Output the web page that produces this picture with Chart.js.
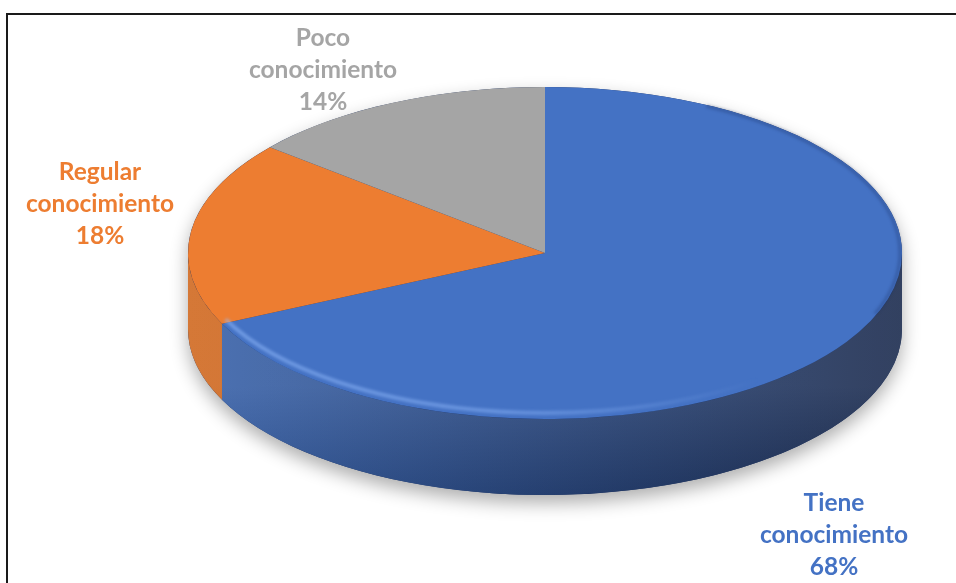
<!DOCTYPE html>
<html>
<head>
<meta charset="utf-8">
<script src="https://cdn.jsdelivr.net/npm/chart.js@4.4.0/dist/chart.umd.min.js"></script>
<style>
html,body{margin:0;padding:0;background:#fff;overflow:hidden}
#wrap{position:relative;width:956px;height:583px;overflow:hidden}
#frame{position:absolute;left:6px;top:13px;width:1000px;height:700px;border:2px solid #1a1a1a;box-sizing:border-box}
#chartPie{position:absolute;left:0;top:0}
</style>
</head>
<body>
<div id="wrap">
  <div id="frame"></div>
  <canvas id="chartPie" width="956" height="583"></canvas>
</div>
<script>
/* ---------- data ---------- */
const categories = ['Tiene conocimiento','Regular conocimiento','Poco conocimiento'];
const values = [68, 18, 14];
const topColors = ['#4472c4','#ed7d31','#a5a5a5'];
const sideColors = [['#3862ab','#1b2b4e'],['#d06920','#b4561a'],['#8c8c8c','#777777']];
const labelLines = [['Tiene','conocimiento'],['Regular','conocimiento'],['Poco','conocimiento']];
const labelAt = [[834,503],[100,172],[323,38]];

const TILT = 0.465;   // vertical squash of the disc
const DEPTH = 76;     // thickness of the disc

/* ---------- 3d pie plugin ---------- */
const pie3d = {
  id:'pie3d',
  beforeDatasetsDraw(chart){
    const ctx = chart.ctx;
    const arcs = chart.getDatasetMeta(0).data;
    const {x, y, outerRadius:r} = arcs[0].getProps(['x','y','outerRadius'],true);
    const ry = r*TILT;

    // soft shadow under the whole disc
    ctx.save();
    ctx.shadowColor = 'rgba(0,0,0,0.32)';
    ctx.shadowBlur = 18;
    ctx.shadowOffsetY = 8;
    ctx.fillStyle = '#1f3360';
    ctx.beginPath();
    ctx.ellipse(x, y, r, ry, 0, Math.PI, 2*Math.PI);
    ctx.ellipse(x, y+DEPTH, r, ry, 0, 0, Math.PI);
    ctx.closePath();
    ctx.fill();
    ctx.restore();

    // side walls, only the front half is visible
    arcs.forEach((a,i)=>{
      const {startAngle:s, endAngle:e} = a.getProps(['startAngle','endAngle'],true);
      [-1,0,1].forEach(k=>{
        const lo = Math.max(s, 2*Math.PI*k), hi = Math.min(e, 2*Math.PI*k+Math.PI);
        if(hi <= lo) return;
        const g = ctx.createLinearGradient(x-r,0,x+r,0);
        g.addColorStop(0, sideColors[i][0]);
        g.addColorStop(1, sideColors[i][1]);
        ctx.save();
        ctx.fillStyle = g;
        ctx.beginPath();
        ctx.ellipse(x, y, r, ry, 0, lo, hi, false);
        ctx.ellipse(x, y+DEPTH, r, ry, 0, hi, lo, true);
        ctx.closePath();
        ctx.fill();
        // lighter band just under the rim
        const v = ctx.createLinearGradient(0, y, 0, y+ry+DEPTH);
        v.addColorStop(0.55,'rgba(255,255,255,0.10)');
        v.addColorStop(1,'rgba(0,0,0,0.10)');
        ctx.fillStyle = v;
        ctx.fill();
        ctx.restore();
      });
    });

    // squash the library's arcs into the top face
    ctx.save();
    ctx.translate(x, y);
    ctx.scale(1, TILT);
    ctx.translate(-x, -y);
  },
  afterDatasetsDraw(chart){
    const ctx = chart.ctx;
    ctx.restore();
    const a0 = chart.getDatasetMeta(0).data[0];
    const {x, y, outerRadius:r} = a0.getProps(['x','y','outerRadius'],true);
    const ry = r*TILT;

    // highlight along the front rim
    ctx.save();
    const h = ctx.createLinearGradient(x-r,0,x+r,0);
    h.addColorStop(0,'rgba(150,190,255,0.55)');
    h.addColorStop(0.45,'rgba(150,190,255,0.45)');
    h.addColorStop(0.8,'rgba(150,190,255,0.0)');
    ctx.strokeStyle = h;
    ctx.lineWidth = 4;
    ctx.filter = 'blur(1.5px)';
    ctx.beginPath();
    ctx.ellipse(x, y-3, r-4, ry-3, 0, 0.2*Math.PI, 0.86*Math.PI);
    ctx.stroke();
    ctx.restore();

    // darker edge on the right of the top face
    ctx.save();
    ctx.strokeStyle = 'rgba(20,40,90,0.3)';
    ctx.lineWidth = 3;
    ctx.filter = 'blur(1.5px)';
    ctx.beginPath();
    ctx.ellipse(x, y, r-2, ry-1, 0, -0.35*Math.PI, 0.12*Math.PI);
    ctx.stroke();
    ctx.restore();
  },
  afterDraw(chart){
    const ctx = chart.ctx;
    const total = values.reduce((s,v)=>s+v,0);
    ctx.save();
    ctx.font = 'bold 24.5px Lato, "Open Sans", sans-serif';
    ctx.textAlign = 'center';
    ctx.textBaseline = 'middle';
    values.forEach((v,i)=>{
      const lines = [...labelLines[i], Math.round(v/total*100)+'%'];
      ctx.fillStyle = topColors[i];
      lines.forEach((t,j)=>ctx.fillText(t, labelAt[i][0], labelAt[i][1]+j*32));
    });
    ctx.restore();
  }
};

/* ---------- chart ---------- */
new Chart(document.getElementById('chartPie'),{
  type:'pie',
  data:{
    labels:categories,
    datasets:[{
      data:values,
      backgroundColor:topColors,
      borderWidth:0,
      radius:357,
      clip:false,
      hoverOffset:0
    }]
  },
  options:{
    responsive:false,
    animation:false,
    layout:{padding:{left:134,right:0,top:0,bottom:77}},
    plugins:{legend:{display:false},tooltip:{enabled:false}},
    events:[]
  },
  plugins:[pie3d]
});
</script>
</body>
</html>
